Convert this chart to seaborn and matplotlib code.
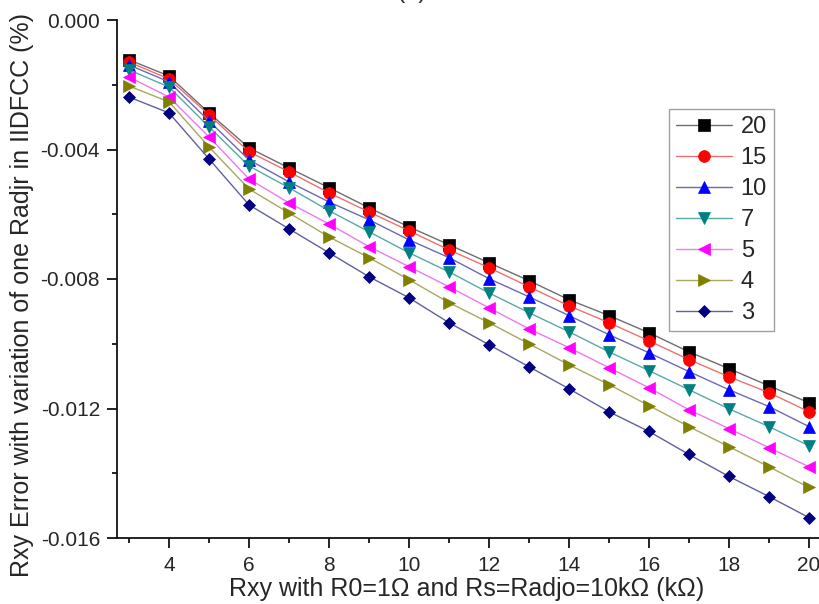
import numpy as np
import pandas as pd
import matplotlib
matplotlib.use("Agg")
import matplotlib.pyplot as plt
import seaborn as sns
from matplotlib.ticker import MultipleLocator, FormatStrFormatter

# x values (kOhm)
rxy = [3, 4, 5, 6, 7, 8, 9, 10, 11, 12, 13, 14, 15, 16, 17, 18, 19, 20]

# error values (%), one list per Radj curve
err_20 = [-0.00123, -0.00173, -0.00287, -0.00395, -0.00457, -0.00518, -0.00580, -0.00639, -0.00694,
          -0.00750, -0.00805, -0.00864, -0.00913, -0.00966, -0.01025, -0.01077, -0.01130, -0.01182]
err_15 = [-0.00130, -0.00182, -0.00293, -0.00407, -0.00469, -0.00534, -0.00593, -0.00651, -0.00710,
          -0.00765, -0.00824, -0.00883, -0.00935, -0.00991, -0.01049, -0.01102, -0.01151, -0.01210]
err_10 = [-0.00139, -0.00191, -0.00312, -0.00432, -0.00500, -0.00562, -0.00617, -0.00679, -0.00734,
          -0.00799, -0.00855, -0.00913, -0.00972, -0.01028, -0.01086, -0.01142, -0.01194, -0.01256]
err_7 = [-0.00154, -0.00207, -0.00330, -0.00451, -0.00518, -0.00589, -0.00654, -0.00719, -0.00778,
         -0.00843, -0.00904, -0.00963, -0.01025, -0.01083, -0.01142, -0.01201, -0.01256, -0.01315]
err_5 = [-0.00176, -0.00238, -0.00361, -0.00491, -0.00565, -0.00630, -0.00700, -0.00762, -0.00824,
         -0.00889, -0.00954, -0.01012, -0.01074, -0.01136, -0.01204, -0.01262, -0.01321, -0.01380]
err_4 = [-0.00204, -0.00253, -0.00392, -0.00522, -0.00596, -0.00670, -0.00734, -0.00802, -0.00873,
         -0.00935, -0.01000, -0.01065, -0.01126, -0.01191, -0.01256, -0.01318, -0.01380, -0.01444]
err_3 = [-0.00238, -0.00287, -0.00429, -0.00571, -0.00645, -0.00719, -0.00793, -0.00858, -0.00935,
         -0.01003, -0.01071, -0.01139, -0.01210, -0.01271, -0.01342, -0.01410, -0.01472, -0.01537]

labels = ['20', '15', '10', '7', '5', '4', '3']
series = [err_20, err_15, err_10, err_7, err_5, err_4, err_3]

# marker colour, line colour (lighter), marker, size
colors = ['#000000', '#ff0000', '#0000ff', '#008080', '#ff00ff', '#808000', '#000080']
line_colors = ['#6e6e6e', '#f07070', '#6a6ab8', '#5aa8a8', '#f078f0', '#a8a860', '#6060a0']
markers = ['s', 'o', '^', 'v', '<', '>', 'D']
msizes = [8, 8.5, 9, 9, 9, 9, 6.3]

sns.set_theme(style='ticks')
plt.rcParams['font.family'] = ['Liberation Sans', 'DejaVu Sans']

fig = plt.figure(figsize=(8.2, 6.04), dpi=100)
ax = fig.add_axes([117/820, 66/604, 703/820, 518/604])

for lab, vals, c, lc, m, ms in zip(labels, series, colors, line_colors, markers, msizes):
    sns.lineplot(x=rxy, y=vals, ax=ax, color=c, marker=m, markersize=ms,
                 linewidth=1.0, markeredgecolor=c, markeredgewidth=0.5, legend=False)
    ln = ax.lines[-1]
    ln.set_color(lc)
    ln.set_markerfacecolor(c)
    ln.set_markeredgecolor(c)

ax.set_xlim(2.7, 20.275)
ax.set_ylim(-0.016, 0.0)
ax.xaxis.set_major_locator(MultipleLocator(2))
ax.xaxis.set_minor_locator(MultipleLocator(1))
ax.yaxis.set_major_locator(MultipleLocator(0.004))
ax.yaxis.set_minor_locator(MultipleLocator(0.002))
ax.yaxis.set_major_formatter(FormatStrFormatter('%.3f'))
ax.set_xticks([4, 6, 8, 10, 12, 14, 16, 18, 20])

for s in ['top', 'right']:
    ax.spines[s].set_visible(False)
for s in ['left', 'bottom']:
    ax.spines[s].set_linewidth(1.3)
    ax.spines[s].set_color('#111111')

ax.tick_params(which='major', direction='out', length=7.2, width=1.3, labelsize=15, pad=5, color='#111111')
ax.tick_params(axis='x', which='major', pad=6)
ax.tick_params(which='minor', direction='out', length=3.8, width=1.3, color='#111111')

ax.set_xlabel('Rxy with R0=1\u03a9 and Rs=Radjo=10k\u03a9 (k\u03a9)', fontsize=18)
ax.set_ylabel('Rxy Error with variation of one Radjr in IIDFCC (%)', fontsize=18)
ax.xaxis.set_label_coords(0.498, -0.075)
ax.yaxis.set_label_coords(-0.118, 0.469)

leg = ax.legend(ax.lines[:7], labels, loc='upper right',
                bbox_to_anchor=(774/820, 1 - 109/604), bbox_transform=fig.transFigure,
                fontsize=17, frameon=True, fancybox=False, handlelength=2.4,
                handletextpad=0.35, labelspacing=0.38, borderpad=0.3, borderaxespad=0)
leg.get_frame().set_edgecolor('#888888')
leg.get_frame().set_linewidth(1.0)

fig.text(412/820, 1 + 2/604, '(a)', ha='center', va='baseline', fontsize=18, color='#333333')

fig.savefig('out.png', dpi=100)
